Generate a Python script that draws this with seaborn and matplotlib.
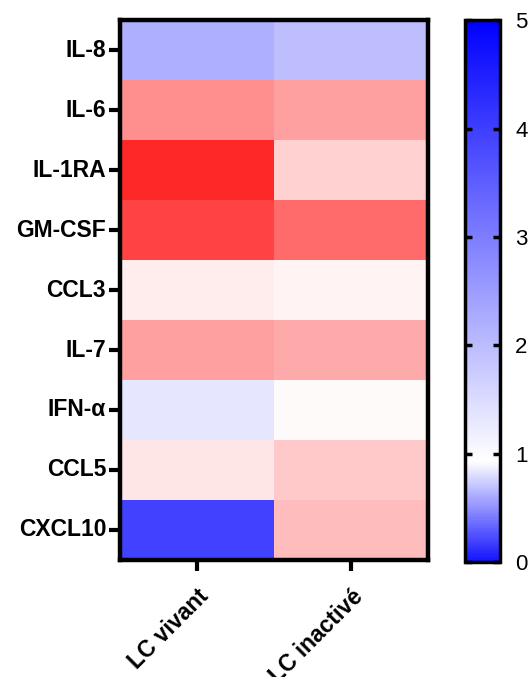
import numpy as np
import pandas as pd
import seaborn as sns
import matplotlib.pyplot as plt
from matplotlib.colors import LinearSegmentedColormap, Normalize
from matplotlib.cm import ScalarMappable

# values (fold change, 1 = no change)
cytokines = ['IL-8', 'IL-6', 'IL-1RA', 'GM-CSF', 'CCL3', 'IL-7', 'IFN-α', 'CCL5', 'CXCL10']
conditions = ['LC vivant', 'LC inactivé']
lc_vivant = [0.70, 2.77, 4.37, 3.93, 1.30, 2.49, 0.90, 1.39, 0.27]
lc_inactive = [0.75, 2.49, 1.72, 3.33, 1.20, 2.33, 1.08, 1.85, 2.07]
cbar_ticks = [0, 1, 2, 3, 4, 5]

df = pd.DataFrame({conditions[0]: lc_vivant, conditions[1]: lc_inactive}, index=cytokines)

plt.rcParams['font.family'] = ['Liberation Sans', 'DejaVu Sans']

# cells: blue below 1, white at 1, red up to 5
cell_cmap = LinearSegmentedColormap.from_list(
    'cells', [(0, '#0000ff'), (0.2, '#ffffff'), (1, '#ff0000')])
# legend bar as drawn in the reference: blue - white - blue
bar_cmap = LinearSegmentedColormap.from_list(
    'bar', [(0, '#1414ff'), (0.185, '#ffffff'), (1, '#0000ff')])

fig = plt.figure(figsize=(5.29, 6.77), dpi=100)
ax = fig.add_axes([0.227, 0.173, 0.582, 0.797])
cax = fig.add_axes([0.879, 0.170, 0.066, 0.800])

sns.heatmap(df, ax=ax, cmap=cell_cmap, vmin=0, vmax=5, cbar=False)

for s in ax.spines.values():
    s.set_visible(True)
    s.set_linewidth(3.2)
    s.set_color('black')
ax.tick_params(width=3, length=8, color='black')
ax.tick_params(axis='y', pad=2)
ax.tick_params(axis='x', pad=10)
ax.set_yticklabels(cytokines, rotation=0, fontsize=16.5, fontweight='bold')
ax.set_xticklabels(conditions, rotation=45, ha='right', rotation_mode='anchor',
                   fontsize=16.5, fontweight='bold')
ax.set_xlabel('')
ax.set_ylabel('')

sm = ScalarMappable(norm=Normalize(0, 5), cmap=bar_cmap)
cb = fig.colorbar(sm, cax=cax, ticks=cbar_ticks)
cb.outline.set_linewidth(2.5)
cax.tick_params(axis='y', direction='in', left=True, right=True, width=2.5,
                length=5, labelsize=16, pad=11)
cax.set_yticklabels([str(t) for t in cbar_ticks])

fig.savefig('out.png', dpi=100)
